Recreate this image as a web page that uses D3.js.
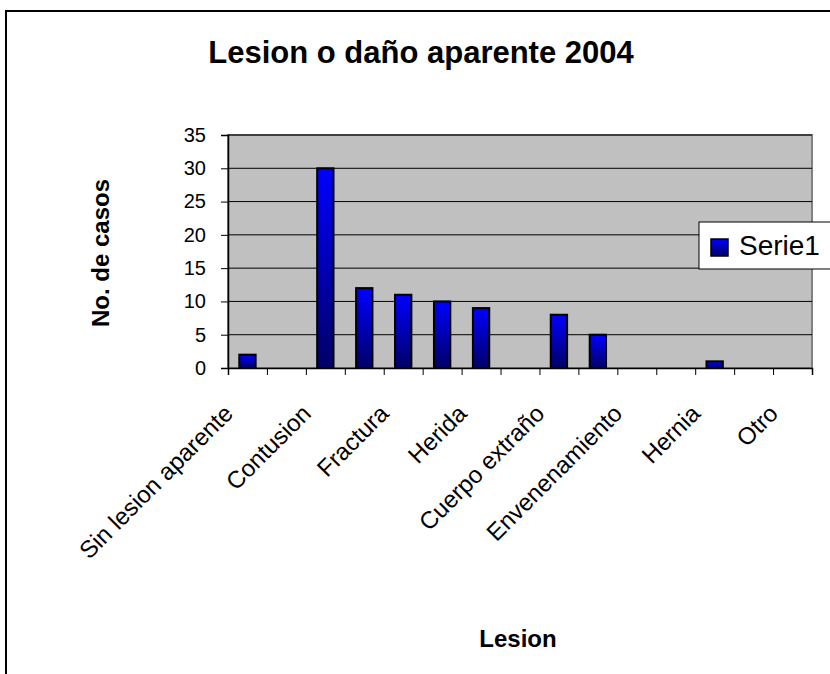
<!DOCTYPE html>
<html><head><meta charset="utf-8">
<script src="https://cdn.jsdelivr.net/npm/d3@7"></script>
<style>body{margin:0;background:#fff}svg{display:block}text{font-family:"Liberation Sans",Arial,sans-serif}</style>
</head><body>
<script>
const title = "Lesion o daño aparente 2004";
const categories = ["Sin lesion aparente","","Contusion","","Fractura","","Herida","","Cuerpo extraño","","Envenenamiento","","Hernia","","Otro"];
const values = [2,0,30,12,11,10,9,0,8,5,0,0,1,0,0];
const yTicks = [0,5,10,15,20,25,30,35];
const seriesName = "Serie1";
const xTitle = "Lesion", yTitle = "No. de casos";

const W = 830, H = 674;
const svg = d3.select("body").append("svg").attr("width", W).attr("height", H);
const defs = svg.append("defs");
const grad = defs.append("linearGradient").attr("id","g").attr("x1",0).attr("y1",0).attr("x2",0).attr("y2",1);
grad.append("stop").attr("offset","0%").attr("stop-color","#0000ff");
grad.append("stop").attr("offset","100%").attr("stop-color","#000066");

// outer frame
svg.append("rect").attr("x",6).attr("y",11).attr("width",W+20).attr("height",H+20)
  .attr("fill","#fff").attr("stroke","#000").attr("stroke-width",2);

const L = 228, R = 812, T = 135, B = 368;
const idx = d3.range(categories.length);
const x = d3.scaleBand().domain(idx).range([L, R]).paddingInner(0).paddingOuter(0);
const xb = d3.scaleLinear().domain([0, categories.length]).range([L, R]);
const y = d3.scaleLinear().domain([0, 35]).range([B, T]);

// plot area
svg.append("rect").attr("x",L).attr("y",T).attr("width",R-L).attr("height",B-T)
  .attr("fill","#c0c0c0").attr("stroke","#808080").attr("stroke-width",2);
// gridlines
svg.append("g").selectAll("line").data(yTicks.filter(d=>d>0)).join("line")
  .attr("x1",L).attr("x2",R).attr("y1",d=>y(d)).attr("y2",d=>y(d))
  .attr("stroke","#000").attr("stroke-width",1);

// y axis
const ya = svg.append("g").attr("transform",`translate(${L},0)`)
  .call(d3.axisLeft(y).tickValues(yTicks).tickSize(7).tickPadding(15));
ya.select(".domain").attr("stroke","#000").attr("stroke-width",1.5);
ya.selectAll("line").attr("stroke","#000");
ya.selectAll("text").attr("font-size",20).attr("fill","#000").attr("font-family","Liberation Sans, Arial, sans-serif");

// x axis boundaries
const xa = svg.append("g").attr("transform",`translate(0,${B})`)
  .call(d3.axisBottom(xb).tickValues(d3.range(categories.length+1)).tickSize(7).tickFormat(""));
xa.select(".domain").attr("stroke","#000").attr("stroke-width",1.5);
xa.selectAll("line").attr("stroke","#000");

// bars
const bw = x.bandwidth()*0.42;
svg.append("g").selectAll("rect").data(values.map((v,i)=>({v,i})).filter(d=>d.v>0)).join("rect")
  .attr("x",d=>x(d.i)+x.bandwidth()/2-bw/2).attr("width",bw)
  .attr("y",d=>y(d.v)).attr("height",d=>y(0)-y(d.v))
  .attr("fill","url(#g)").attr("stroke","#000").attr("stroke-width",2);

// category labels
svg.append("g").selectAll("text").data(idx.filter(i=>categories[i]!=="")).join("text")
  .attr("transform",i=>`translate(${x(i)+x.bandwidth()/2-13},${B+47}) rotate(-45)`)
  .attr("text-anchor","end").attr("font-size",24).attr("fill","#000")
  .text(i=>categories[i]);

// titles
svg.append("text").attr("x",421).attr("y",63).attr("text-anchor","middle")
  .attr("font-size",31).attr("font-weight","bold").text(title);
svg.append("text").attr("transform",`translate(109,253) rotate(-90)`).attr("text-anchor","middle")
  .attr("font-size",24).attr("font-weight","bold").text(yTitle);
svg.append("text").attr("x",518).attr("y",647).attr("text-anchor","middle")
  .attr("font-size",24).attr("font-weight","bold").text(xTitle);

// legend
const lg = svg.append("g");
lg.append("rect").attr("x",699).attr("y",222).attr("width",150).attr("height",47)
  .attr("fill","#fff").attr("stroke","#000").attr("stroke-width",1);
lg.append("rect").attr("x",711).attr("y",239).attr("width",17).attr("height",17)
  .attr("fill","url(#g)").attr("stroke","#000").attr("stroke-width",1.5);
lg.append("text").attr("x",739).attr("y",255).attr("font-size",28).attr("fill","#000").text(seriesName);
</script>
</body></html>
